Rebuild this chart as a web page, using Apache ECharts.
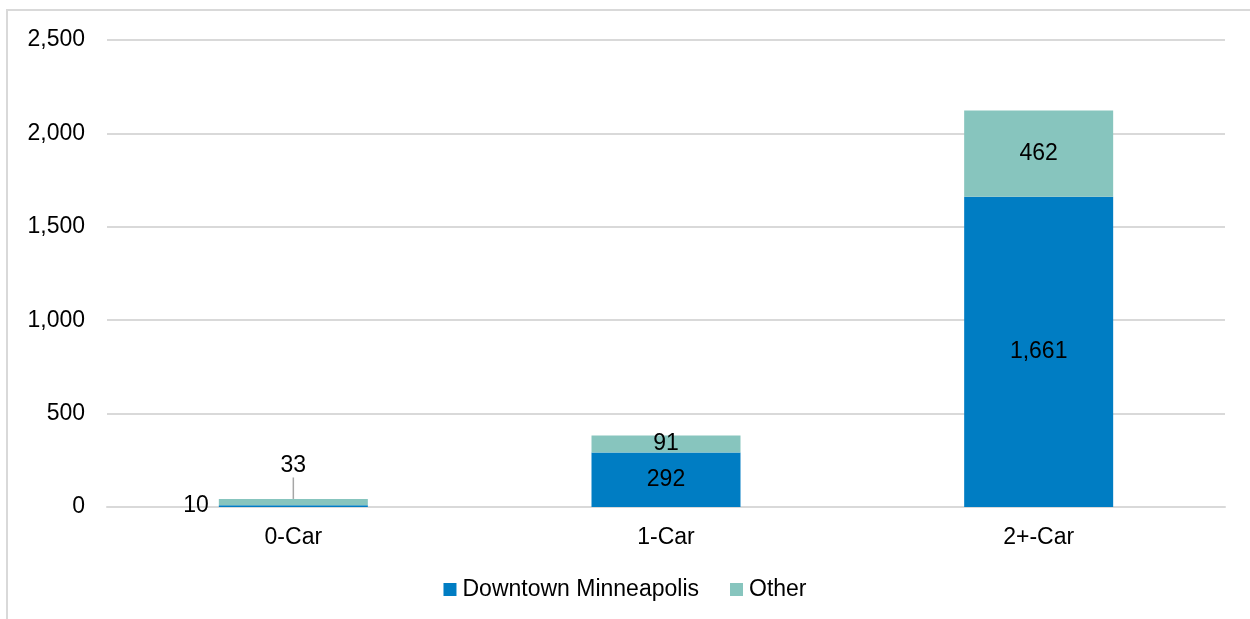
<!DOCTYPE html>
<html>
<head>
<meta charset="utf-8">
<script src="https://cdn.jsdelivr.net/npm/echarts@6/dist/echarts.min.js"></script>
<style>
  html, body { margin: 0; padding: 0; background: #fff; }
  #chart { width: 1250px; height: 619px; }
</style>
</head>
<body>
<div id="chart"></div>
<script>
// Households by car ownership, split by destination
const categories = ['0-Car', '1-Car', '2+-Car'];
const downtownValues = [10, 292, 1661];
const otherValues = [33, 91, 462];
const seriesNames = ['Downtown Minneapolis', 'Other'];
const yTicks = { min: 0, max: 2500, interval: 500 };

const FONT = '"Liberation Sans", Arial, sans-serif';
const FS = 23;
const TEXT = '#000000';
const BLUE = '#007DC3';
const TEAL = '#87C5BE';

const chart = echarts.init(document.getElementById('chart'));

const fmt = v => Number(v).toLocaleString('en-US');

chart.setOption({
  animation: false,
  textStyle: { fontFamily: FONT },
  graphic: [{
    type: 'rect',
    shape: { x: 7, y: 10, width: 1400, height: 800 },
    style: { fill: 'none', stroke: '#d9d9d9', lineWidth: 2 },
    silent: true
  }],
  grid: { left: 107, right: 25, top: 40, bottom: 112, containLabel: false },
  legend: {
    bottom: 13,
    left: 'center',
    itemWidth: 13,
    itemHeight: 13,
    itemGap: 31,
    icon: 'rect',
    textStyle: { fontFamily: FONT, fontSize: FS, color: TEXT, padding: [0, 0, 0, 1] },
    data: seriesNames
  },
  xAxis: {
    type: 'category',
    data: categories,
    axisLine: { show: true, lineStyle: { color: '#d9d9d9', width: 2 } },
    axisTick: { show: false },
    axisLabel: { fontFamily: FONT, fontSize: FS, color: TEXT, margin: 19 }
  },
  yAxis: {
    type: 'value',
    min: yTicks.min,
    max: yTicks.max,
    interval: yTicks.interval,
    axisLine: { show: false },
    axisTick: { show: false },
    splitLine: { lineStyle: { color: '#d9d9d9', width: 2 } },
    axisLabel: { fontFamily: FONT, fontSize: FS, color: TEXT, margin: 22, padding: [4, 0, 0, 0], formatter: fmt }
  },
  series: [
    {
      name: seriesNames[0],
      type: 'bar',
      stack: 'total',
      barWidth: 149,
      itemStyle: { color: BLUE },
      label: {
        show: true,
        position: 'inside',
        fontFamily: FONT,
        fontSize: FS,
        color: TEXT,
        padding: [5, 0, 0, 0],
        formatter: p => fmt(p.value)
      },
      data: downtownValues.map((v, i) => i === 0
        ? { value: v, label: { position: 'left', distance: 10 } }
        : v)
    },
    {
      name: seriesNames[1],
      type: 'bar',
      stack: 'total',
      barWidth: 149,
      itemStyle: { color: TEAL },
      label: {
        show: true,
        position: 'inside',
        fontFamily: FONT,
        fontSize: FS,
        color: TEXT,
        padding: [5, 0, 0, 0],
        formatter: p => fmt(p.value)
      },
      labelLine: { show: true, lineStyle: { color: '#a6a6a6', width: 1.5 } },
      labelLayout: p => p.dataIndex === 0
        ? { y: p.rect.y - 33, verticalAlign: 'middle', align: 'center', x: p.rect.x + p.rect.width / 2 }
        : {},
      data: otherValues
    }
  ]
});
</script>
</body>
</html>
